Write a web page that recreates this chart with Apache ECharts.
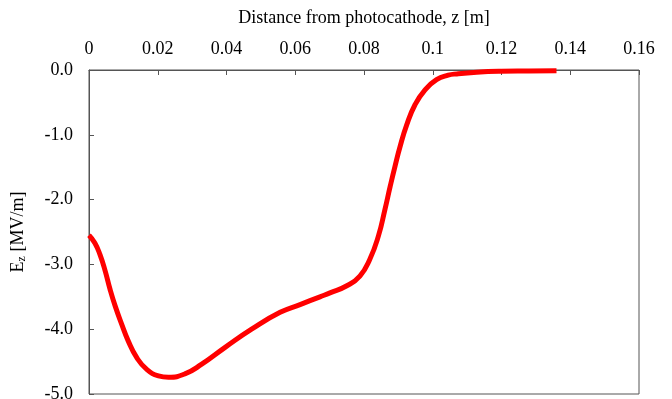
<!DOCTYPE html>
<html><head><meta charset="utf-8">
<script src="https://cdn.jsdelivr.net/npm/echarts@6/dist/echarts.min.js"></script>
<style>html,body{margin:0;padding:0;background:#fff}#c{width:672px;height:399px}</style>
</head><body><div id="c"></div>
<script>
const zValues = [0, 0.0017, 0.0032, 0.0047, 0.0061, 0.0076, 0.0095, 0.0114, 0.0139, 0.0168, 0.0202, 0.0231, 0.0279, 0.0328, 0.0396, 0.0473, 0.0556, 0.0614, 0.0672, 0.0701, 0.075, 0.0788, 0.0817, 0.0842, 0.0861, 0.0876, 0.089, 0.0905, 0.0924, 0.0948, 0.0977, 0.1011, 0.1045, 0.107, 0.1128, 0.12, 0.128, 0.136];
const ezValues = [-2.55, -2.67, -2.85, -3.10, -3.38, -3.64, -3.92, -4.18, -4.44, -4.62, -4.72, -4.74, -4.69, -4.54, -4.28, -4.0, -3.74, -3.62, -3.50, -3.44, -3.33, -3.18, -2.92, -2.56, -2.15, -1.80, -1.49, -1.18, -0.85, -0.54, -0.31, -0.15, -0.08, -0.06, -0.035, -0.02, -0.015, -0.01];
const xTitle = 'Distance from photocathode, z [m]';
const xMin = 0, xMax = 0.16, xStep = 0.02;
const yMin = -5, yMax = 0, yStep = 1;

const font = 'Liberation Serif';
const axisCol = '#555';
const chart = echarts.init(document.getElementById('c'));
chart.setOption({
  animation: false,
  grid: {left: 89, right: 33, top: 70, bottom: 5, outerBoundsMode: 'none', containLabel: false,
    show: true, borderColor: axisCol, borderWidth: 1},
  xAxis: {
    type: 'value', position: 'top', min: xMin, max: xMax, interval: xStep,
    name: xTitle, nameLocation: 'middle', nameGap: 43,
    nameTextStyle: {fontFamily: font, fontSize: 18, color: '#000'},
    axisLine: {show: true, lineStyle: {color: axisCol}},
    axisTick: {show: true, inside: true, length: 5, lineStyle: {color: axisCol}},
    axisLabel: {fontFamily: font, fontSize: 18, color: '#000', margin: 12},
    splitLine: {show: false}
  },
  yAxis: {
    type: 'value', min: yMin, max: yMax, interval: yStep,
    name: 'E{sub|z} [MV/m]', nameLocation: 'middle', nameGap: 61, nameRotate: 90,
    nameTextStyle: {fontFamily: font, fontSize: 18, color: '#000',
      rich: {sub: {fontFamily: font, fontSize: 12, color: '#000', verticalAlign: 'bottom', padding: [8, 0, 0, 0]}}},
    axisLine: {show: true, lineStyle: {color: axisCol}},
    axisTick: {show: true, inside: true, length: 5, lineStyle: {color: axisCol}},
    axisLabel: {fontFamily: font, fontSize: 18, color: '#000', margin: 16, formatter: v => v.toFixed(1)},
    splitLine: {show: false}
  },
  series: [{
    type: 'line', smooth: 0.5, symbol: 'none',
    lineStyle: {color: '#ff0000', width: 5},
    data: zValues.map((z, i) => [z, ezValues[i]])
  }]
});
</script></body></html>
